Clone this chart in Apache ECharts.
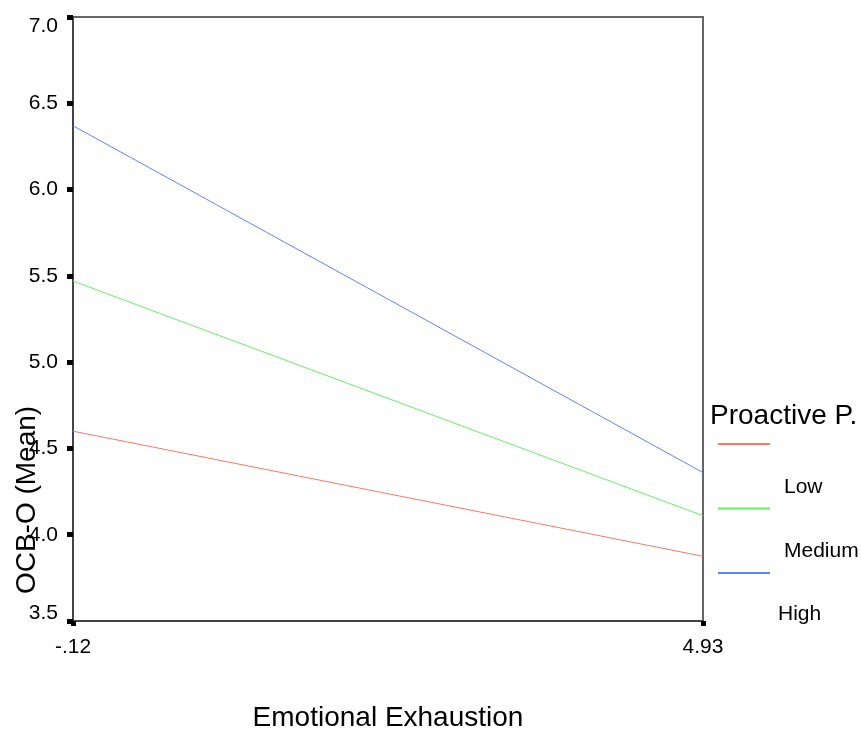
<!DOCTYPE html>
<html>
<head>
<meta charset="utf-8">
<script src="https://cdn.jsdelivr.net/npm/echarts@6/dist/echarts.min.js"></script>
<style>
  html, body { margin: 0; padding: 0; background: #fff; }
  #chart { width: 861px; height: 730px; }
</style>
</head>
<body>
<div id="chart"></div>
<script>
// data
const categories = ["-.12", "4.93"];
const groupNames = ["Low", "Medium", "High"];
const lowValues = [4.6, 3.875];
const mediumValues = [5.47, 4.11];
const highValues = [6.37, 4.36];
const groupColors = ["#fa7864", "#64f064", "#6482ff"];

const font = "'Liberation Sans', Arial, sans-serif";
const chart = echarts.init(document.getElementById("chart"));

const seriesValues = [lowValues, mediumValues, highValues];

const option = {
  animation: false,
  textStyle: { fontFamily: font, color: "#000" },
  grid: {
    left: 73,
    right: 158,
    top: 17,
    bottom: 109,
    outerBoundsMode: "none",
    containLabel: false,
    show: true,
    borderColor: "#666",
    borderWidth: 2,
  },
  title: {
    text: "Proactive P.",
    left: 710,
    top: 402,
    padding: 0,
    textStyle: { fontSize: 28, fontWeight: "normal", color: "#000", fontFamily: font },
  },
  legend: {
    orient: "vertical",
    left: 718,
    top: 443,
    padding: 0,
    icon: "rect",
    itemWidth: 52,
    itemHeight: 2,
    itemGap: 10,
    selectedMode: false,
    data: groupNames,
    // labels sit below their line, as in the original
    formatter: (name) => (name === "High" ? "{h|" + name + "}" : "{t|" + name + "}"),
    textStyle: {
      fontSize: 21,
      color: "#000",
      fontFamily: font,
      rich: {
        t: { fontSize: 21, fontFamily: font, color: "#000", padding: [86, 0, 0, 9] },
        h: { fontSize: 21, fontFamily: font, color: "#000", padding: [82, 0, 0, 3] },
      },
    },
  },
  xAxis: {
    type: "category",
    data: categories,
    boundaryGap: false,
    name: "Emotional Exhaustion",
    nameLocation: "middle",
    nameGap: 83,
    nameTextStyle: { fontSize: 28, color: "#000", fontFamily: font },
    axisLine: { lineStyle: { color: "#444", width: 2 } },
    axisTick: { length: 5, lineStyle: { color: "#000", width: 5 } },
    axisLabel: { fontSize: 21, color: "#000", margin: 16, fontFamily: font },
    splitLine: { show: false },
  },
  yAxis: {
    type: "value",
    min: 3.5,
    max: 7,
    interval: 0.5,
    axisLine: { show: true, lineStyle: { color: "#444", width: 2 } },
    axisTick: { show: true, length: 6, lineStyle: { color: "#000", width: 5 } },
    axisLabel: {
      fontSize: 21,
      color: "#000",
      margin: 15,
      fontFamily: font,
      formatter: (v) => {
        const s = v.toFixed(1);
        if (v === 7) return "{top|" + s + "}";
        if (v === 3.5) return "{bot|" + s + "}";
        return s;
      },
      rich: {
        top: { fontSize: 21, fontFamily: font, color: "#000", padding: [18, 0, 0, 0] },
        bot: { fontSize: 21, fontFamily: font, color: "#000", padding: [0, 0, 16, 0] },
      },
    },
    splitLine: { show: false },
  },
  graphic: [
    {
      type: "text",
      x: 27,
      y: 500,
      rotation: Math.PI / 2,
      style: {
        text: "OCB-O (Mean)",
        fontSize: 28,
        fontFamily: font,
        fill: "#000",
        align: "center",
        verticalAlign: "middle",
      },
    },
  ],
  series: groupNames.map((name, i) => ({
    name: name,
    type: "line",
    data: seriesValues[i],
    showSymbol: false,
    lineStyle: { color: groupColors[i], width: 1 },
    itemStyle: { color: groupColors[i] },
  })),
};

chart.setOption(option);
window.addEventListener("resize", chart.resize);
</script>
</body>
</html>
